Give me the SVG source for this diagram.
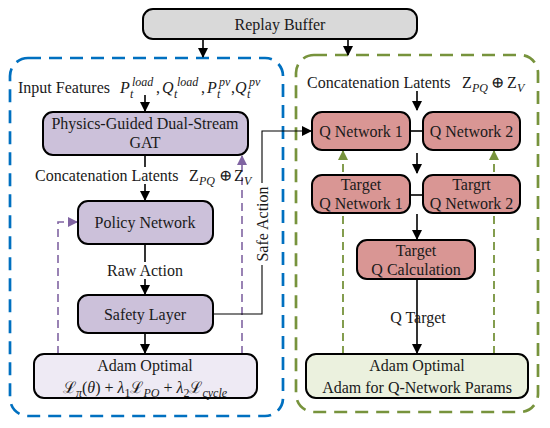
<svg xmlns="http://www.w3.org/2000/svg" width="550" height="428" viewBox="0 0 550 428">
<style>
text{font-family:"Liberation Serif","DejaVu Serif",serif;font-size:16px;fill:#1a1a1a}
.c{text-anchor:middle}
.i{font-style:italic}
.s{font-size:12px;font-style:italic}
.box{stroke:#000;stroke-width:2}
.gray{fill:#d9d9d9}
.pur{fill:#ccc1da}
.lav{fill:#eeeaf4}
.red{fill:#d99694}
.grn{fill:#ebf1de}
.ln{stroke:#000;stroke-width:1.6;fill:none}
.thin{stroke:#000;stroke-width:1.1;fill:none}
.pd{stroke:#8064a2;stroke-width:1.6;stroke-dasharray:8 5;fill:none}
.gd{stroke:#77933c;stroke-width:1.8;stroke-dasharray:8 5;fill:none}
</style>
<defs>
<marker id="ab" markerWidth="10" markerHeight="10" refX="9" refY="5" orient="auto" markerUnits="userSpaceOnUse"><path d="M0,0 L10,5 L0,10 Z" fill="#000"/></marker>
<marker id="ap" markerWidth="10" markerHeight="10" refX="9" refY="5" orient="auto" markerUnits="userSpaceOnUse"><path d="M0,0 L10,5 L0,10 Z" fill="#8064a2"/></marker>
<marker id="ag" markerWidth="10" markerHeight="10" refX="9" refY="5" orient="auto" markerUnits="userSpaceOnUse"><path d="M0,0 L10,5 L0,10 Z" fill="#77933c"/></marker>
</defs>

<!-- containers -->
<g id="actor-container">
<rect x="10" y="58" width="273" height="358" rx="18" fill="none" stroke="#0070c0" stroke-width="2.7" stroke-dasharray="13 8"/>
</g>
<g id="critic-container">
<rect x="296" y="55" width="242" height="357" rx="18" fill="none" stroke="#77933c" stroke-width="2.7" stroke-dasharray="13 8"/>
</g>

<g id="connectors">
<!-- replay buffer arrows -->
<line class="ln" x1="203" y1="39" x2="203" y2="57" marker-end="url(#ab)"/>
<line class="ln" x1="348" y1="39" x2="348" y2="55" marker-end="url(#ab)"/>
<!-- left column -->
<line class="ln" x1="145" y1="95" x2="145" y2="111" marker-end="url(#ab)"/>
<line class="ln" x1="145" y1="155" x2="145" y2="167"/>
<line class="ln" x1="145" y1="184" x2="145" y2="200" marker-end="url(#ab)"/>
<line class="ln" x1="145" y1="244" x2="145" y2="262"/>
<line class="ln" x1="145" y1="279" x2="145" y2="294" marker-end="url(#ab)"/>
<line class="ln" x1="145" y1="333" x2="145" y2="353" marker-end="url(#ab)"/>
<!-- purple feedback -->
<polyline class="pd" points="58,354 58,222 77,222" marker-end="url(#ap)"/>
<line class="pd" x1="242" y1="354" x2="242" y2="156" marker-end="url(#ap)"/>
<!-- safe action -->
<polyline class="thin" points="213,314 262,314 262,265"/>
<polyline class="thin" points="262,183 262,131 311,131" marker-end="url(#ab)"/>
<!-- right column -->
<line class="ln" x1="417" y1="91" x2="417" y2="110" marker-end="url(#ab)"/>
<line class="ln" x1="410" y1="131" x2="423" y2="131"/>
<line class="ln" x1="417" y1="153" x2="417" y2="173" marker-end="url(#ab)"/>
<line class="ln" x1="410" y1="195" x2="423" y2="195"/>
<line class="ln" x1="417" y1="214" x2="417" y2="239" marker-end="url(#ab)"/>
<line class="ln" x1="417" y1="279" x2="417" y2="353" marker-end="url(#ab)"/>
<!-- green soft updates -->
<line class="gd" x1="343" y1="354" x2="343" y2="151" marker-end="url(#ag)"/>
<line class="gd" x1="494" y1="354" x2="494" y2="151" marker-end="url(#ag)"/>
</g>

<g id="replay-buffer">
<rect class="box gray" x="143" y="9" width="274" height="30" rx="10"/>
<text class="c" x="280" y="30">Replay Buffer</text>
</g>

<g id="input-features">
<text x="18" y="93">Input Features</text>
<text class="i" x="120" y="93">P</text><text class="s" x="130" y="98">t</text><text class="s" x="132" y="86">load</text>
<text x="156" y="93">,</text>
<text class="i" x="162" y="93">Q</text><text class="s" x="174" y="98">t</text><text class="s" x="177" y="86">load</text>
<text x="201" y="93">,</text>
<text class="i" x="207" y="93">P</text><text class="s" x="217" y="98">t</text><text class="s" x="219" y="86">pv</text>
<text x="231" y="93">,</text>
<text class="i" x="235" y="93">Q</text><text class="s" x="247" y="98">t</text><text class="s" x="249" y="86">pv</text>
</g>

<g id="gat">
<rect class="box pur" x="43" y="112" width="205" height="43" rx="10"/>
<text class="c" x="145" y="129">Physics-Guided Dual-Stream</text>
<text class="c" x="145" y="148">GAT</text>
</g>

<g id="concat-left">
<text x="35" y="181">Concatenation Latents</text>
<text x="189" y="181">Z</text><text class="s" x="199" y="185">PQ</text>
<text x="219" y="181">⊕</text>
<text x="234" y="181">Z</text><text class="s" x="244" y="185">V</text>
</g>

<g id="policy-network">
<rect class="box pur" x="78" y="201" width="135" height="43" rx="10"/>
<text class="c" x="145" y="228">Policy Network</text>
</g>

<g id="raw-action-label">
<text class="c" x="145" y="276">Raw Action</text>
</g>

<g id="safety-layer">
<rect class="box pur" x="78" y="295" width="135" height="38" rx="10"/>
<text class="c" x="145" y="320">Safety Layer</text>
</g>

<g id="safe-action-label">
<text class="c" transform="translate(268,224) rotate(-90)">Safe Action</text>
</g>

<g id="adam-actor">
<rect class="box lav" x="34" y="354" width="223" height="44" rx="10"/>
<text class="c" x="145" y="371">Adam Optimal</text>
<text class="c" x="145" y="393">ℒ<tspan class="s" dy="4">π</tspan><tspan dy="-4">(</tspan><tspan class="i">θ</tspan>) + <tspan class="i">λ</tspan><tspan font-size="12" dy="4">1</tspan><tspan dy="-4">ℒ</tspan><tspan class="s" dy="4">PQ</tspan><tspan dy="-4"> + </tspan><tspan class="i">λ</tspan><tspan font-size="12" dy="4">2</tspan><tspan dy="-4">ℒ</tspan><tspan class="s" dy="4">cycle</tspan></text>
</g>

<g id="concat-right">
<text x="307" y="88">Concatenation Latents</text>
<text x="462" y="88">Z</text><text class="s" x="472" y="92">PQ</text>
<text x="491" y="88">⊕</text>
<text x="507" y="88">Z</text><text class="s" x="517" y="92">V</text>
</g>

<g id="q-network-1">
<rect class="box red" x="312" y="112" width="98" height="38" rx="10"/>
<text class="c" x="361" y="137">Q Network 1</text>
</g>
<g id="q-network-2">
<rect class="box red" x="423" y="112" width="97" height="38" rx="10"/>
<text class="c" x="471.5" y="137">Q Network 2</text>
</g>
<g id="target-q-network-1">
<rect class="box red" x="312" y="175" width="98" height="38" rx="10"/>
<text class="c" x="361" y="190">Target</text>
<text class="c" x="361" y="209">Q Network 1</text>
</g>
<g id="target-q-network-2">
<rect class="box red" x="423" y="175" width="97" height="38" rx="10"/>
<text class="c" x="471.5" y="190">Targrt</text>
<text class="c" x="471.5" y="209">Q Network 2</text>
</g>
<g id="target-q-calc">
<rect class="box red" x="357" y="240" width="118" height="39" rx="10"/>
<text class="c" x="416" y="256">Target</text>
<text class="c" x="416" y="275">Q Calculation</text>
</g>
<g id="q-target-label">
<text class="c" x="418" y="323">Q Target</text>
</g>
<g id="adam-critic">
<rect class="box grn" x="306" y="354" width="222" height="44" rx="10"/>
<text class="c" x="417" y="371">Adam Optimal</text>
<text class="c" x="417" y="393">Adam for Q-Network Params</text>
</g>
</svg>
